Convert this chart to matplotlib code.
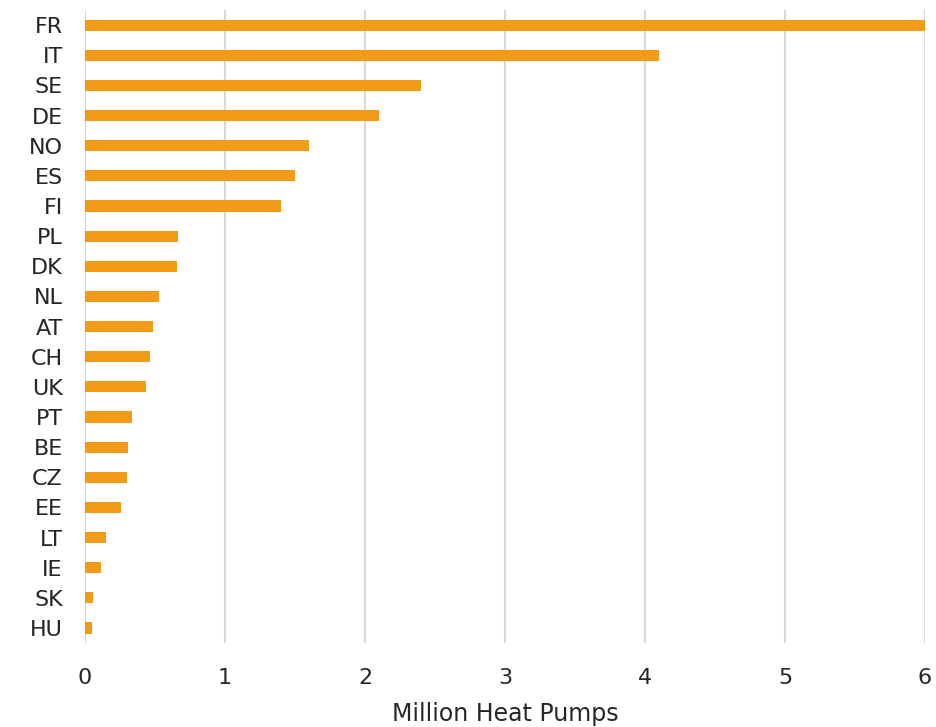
import matplotlib.pyplot as plt

# heat pump stock by country, millions
countries = ['FR', 'IT', 'SE', 'DE', 'NO', 'ES', 'FI', 'PL', 'DK', 'NL', 'AT',
             'CH', 'UK', 'PT', 'BE', 'CZ', 'EE', 'LT', 'IE', 'SK', 'HU']
pumps = [6.0, 4.1, 2.4, 2.1, 1.6, 1.5, 1.4, 0.666, 0.66, 0.53, 0.486,
         0.467, 0.436, 0.336, 0.31, 0.30, 0.26, 0.152, 0.117, 0.055, 0.048]
xticks = [0, 1, 2, 3, 4, 5, 6]

plt.rcParams['font.family'] = ['DejaVu Sans']
fig = plt.figure(figsize=(9.36, 7.27), dpi=100)
ax = fig.add_axes([0.0908, 0.1155, 0.8974, 0.8707])

ypos = list(range(len(countries)))
ax.barh(ypos, pumps, height=0.37, color='#F39A16', zorder=3)
ax.set_yticks(ypos)
ax.set_yticklabels(countries)
ax.set_ylim(len(countries) - 0.5, -0.5)
ax.set_xlim(0, 6)
ax.set_xticks(xticks)
ax.set_xticklabels([str(t) for t in xticks])

ax.grid(axis='x', color='#D9D9D9', linewidth=1.5, zorder=0)
for s in ax.spines.values():
    s.set_visible(False)
ax.tick_params(axis='both', length=0, labelsize=16, colors='#262626')
ax.tick_params(axis='y', pad=16)
ax.tick_params(axis='x', pad=18)
ax.set_xlabel('Million Heat Pumps', fontsize=17, color='#262626', labelpad=10)

fig.savefig('out.png', dpi=100)
